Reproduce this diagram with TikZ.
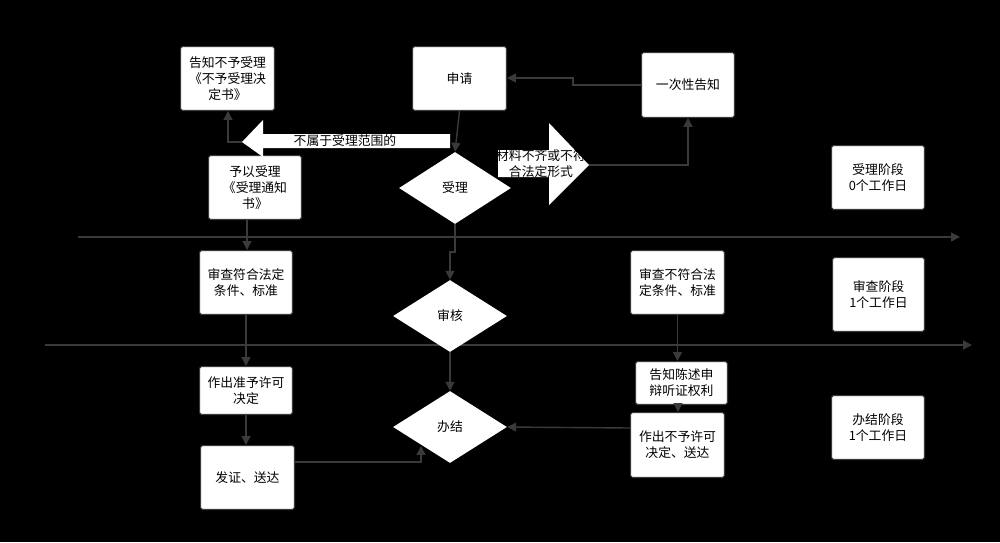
\documentclass[tikz,border=0pt]{standalone}
\usepackage{fontspec}
\setmainfont{Noto Sans CJK SC}
\usetikzlibrary{arrows.meta,shapes.geometric}
\definecolor{ln}{HTML}{3A3A3A}
\begin{document}
\begin{tikzpicture}[x=0.02cm,y=-0.02cm,
  box/.style={draw=ln,fill=white,rounded corners=1pt,line width=0.6pt,align=center,font=\fontsize{7.3}{9}\selectfont,inner sep=1pt},
  dia/.style={draw=none,fill=white,diamond,inner sep=0pt,font=\fontsize{7.3}{9}\selectfont},
  ar/.style={draw=ln,line width=0.8pt,-{Triangle[length=5pt,width=5pt]}},
  ln/.style={draw=ln,line width=0.8pt}]
\fill[black] (0,0) rectangle (1000,542);
\useasboundingbox (0,0) rectangle (1000,542);
% swimlane lines
\coordinate (l1a) at (78,237); \coordinate (l1b) at (960,237);
\coordinate (l2a) at (45,345); \coordinate (l2b) at (972,345);
\draw[ar] (l1a) -- (l1b);
\draw[ar] (l2a) -- (l2b);
% boxes
\newcommand{\bx}[6]{\node[box,minimum width=#4*0.02cm-0.6pt,minimum height=#5*0.02cm-0.6pt] (#1) at (#2,#3) {#6};}
\bx{gz}{227.5}{78.5}{95}{65}{告知不予受理\\《不予受理决\\定书》}
\bx{sq}{459.5}{78.5}{95}{65}{申请}
\bx{yc}{688}{85}{94}{66}{一次性告知}
\bx{yy}{255}{187.5}{94}{65}{予以受理\\《受理通知\\书》}
\bx{s0}{878}{177.5}{94}{65}{受理阶段\\0个工作日}
\bx{s1}{878.5}{294.5}{93}{75}{审查阶段\\1个工作日}
\bx{s2}{878}{427.5}{94}{65}{办结阶段\\1个工作日}
\bx{fh}{246}{282.5}{94}{65}{审查符合法定\\条件、标准}
\bx{bf}{677.5}{282.5}{95}{65}{审查不符合法\\定条件、标准}
\bx{zy}{246}{390.5}{94}{49}{作出准予许可\\决定}
\bx{fz}{247.5}{477.5}{95}{65}{发证、送达}
\bx{gc}{681.5}{383}{93}{44}{告知陈述申\\辩听证权利}
\bx{bz}{677.5}{445}{95}{66}{作出不予许可\\决定、送达}
% diamonds
\node[dia,minimum width=112*0.02cm,minimum height=72*0.02cm] (sl) at (455,188) {受理};
\node[dia,minimum width=114*0.02cm,minimum height=72*0.02cm] (sh) at (450,316) {审核};
\node[dia,minimum width=114*0.02cm,minimum height=72*0.02cm] (bj) at (450,427) {办结};
% big arrows
\fill[white] (450,134) -- (263,134) -- (263,120) -- (242,142) -- (263,157) -- (263,148) -- (450,148) -- cycle;
\node[font=\fontsize{7.3}{9}\selectfont,inner sep=0pt] (bs) at (345,141) {不属于受理范围的};
\coordinate (lt) at (242,142);
\fill[white] (498,150) -- (549,150) -- (549,123) -- (589,165) -- (549,205) -- (549,177) -- (498,177) -- cycle;
\node[font=\fontsize{7.3}{9}\selectfont,align=center,inner sep=0pt] (cl) at (541,164) {材料不齐或不符\\合法定形式};
\coordinate (rt) at (589,165);
% connectors
\draw[ar] (sq.south) -- (sl.north);
\draw[ar] (lt) -- (228,142) -- (gz.south -| 228,0);
\draw[ar] (rt) -- (688,165) -- (yc.south);
\draw[ar] (yc.west) -- (573,85) -- (573,78) -- (sq.east |- 0,78);
\draw[ar] (yy.south -| 247,0) -- (fh.north -| 247,0);
\draw[ar] (sl.south) -- (455,252) -- (450,252) -- (sh.north);
\draw[ar] (sh.south) -- (bj.north);
\draw[ar] (fh.south) -- (zy.north);
\draw[ar] (zy.south) -- (fz.north -| zy.south);
\draw[ar] (fz.east |- 0,462) -- (421,462) -- (421,446);
\draw[ar] (bf.south) -- (bf.south |- gc.north);
\draw[ar] (gc.south -| 678,0) -- (678,412);
\draw[ar] (bz.west |- 0,428) -- (bj.east);
\end{tikzpicture}
\end{document}
